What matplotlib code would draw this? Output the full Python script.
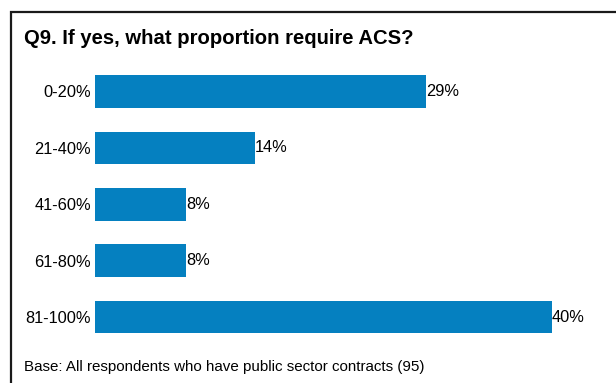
import matplotlib.pyplot as plt
from matplotlib.patches import Rectangle

plt.rcParams['font.family'] = ['Liberation Sans', 'DejaVu Sans']

categories = ['0-20%', '21-40%', '41-60%', '61-80%', '81-100%']
values = [29, 14, 8, 8, 40]

W, H = 616, 383
fig = plt.figure(figsize=(W / 100, H / 100), dpi=100)

# frame around the panel, running off the right and bottom edges
fig.patches.append(Rectangle((11 / W, -0.05), 1.2, 1 - 12 / H + 0.05,
                             transform=fig.transFigure, fill=False,
                             edgecolor='#1a1a1a', linewidth=1.6))

fig.text(24 / W, 1 - 38 / H, 'Q9. If yes, what proportion require ACS?',
         fontsize=14.6, fontweight='bold', va='center', ha='left')
fig.text(24 / W, 1 - 367 / H,
         'Base: All respondents who have public sector contracts (95)',
         fontsize=10.9, va='center', ha='left')

ax = fig.add_axes([95 / W, 1 - 345.2 / H, (552 - 95) / W, (345.2 - 63.3) / H])
pos = range(len(categories))
ax.barh(pos, values, height=0.58, color='#0580c0')
for p, v in zip(pos, values):
    ax.text(v, p, f'{v}%', va='center', ha='left', fontsize=11.8)

ax.set_xlim(0, 40)
ax.set_ylim(4.5, -0.5)
ax.set_yticks(list(pos))
ax.set_yticklabels(categories, fontsize=11.8)
ax.tick_params(axis='y', length=0, pad=3)
ax.set_xticks([])
for s in ax.spines.values():
    s.set_visible(False)

fig.savefig('out.png', dpi=100)
